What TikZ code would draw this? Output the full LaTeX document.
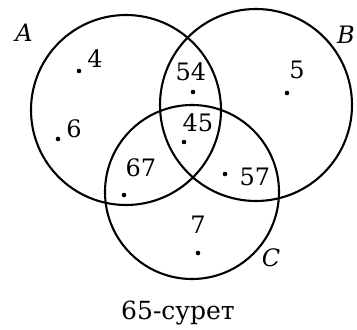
\documentclass[tikz,border=0pt]{standalone}
\usepackage{fontspec}
\setmainfont{DejaVu Serif}
\begin{document}
\begin{tikzpicture}[x=1pt,y=-1pt,
  ring/.style={draw, circle, line width=2.1pt, inner sep=0pt},
  pt/.style={circle, fill, inner sep=0pt, minimum size=4.6pt},
  num/.style={inner sep=0pt, font=\fontsize{24}{28}\selectfont},
  setlab/.style={inner sep=0pt, font=\fontsize{24}{28}\selectfont\itshape}]
\useasboundingbox (0,0) rectangle (357,330);
\node[ring, minimum size=190pt] (A) at (126,110) {};
\node[ring, minimum size=192pt] (B) at (256,105) {};
\node[ring, minimum size=174pt] (C) at (192,192) {};
\node[setlab] (lA) at (24,33) {A};
\node[setlab] (lB) at (346,35) {B};
\node[setlab] (lC) at (271,258) {C};
\node[num] (t4) at (95,59) {4};
\node[pt] (d4) at (79,71) {};
\node[num] (t6) at (74,129) {6};
\node[pt] (d6) at (58,139) {};
\node[num] (t54) at (191,72) {54};
\node[pt] (d54) at (193,92) {};
\node[num] (t5) at (297,70) {5};
\node[pt] (d5) at (287,93) {};
\node[num] (t45) at (198,123) {45};
\node[pt] (d45) at (184,142) {};
\node[num] (t67) at (141,168) {67};
\node[pt] (d67) at (124,195) {};
\node[num] (t57) at (255,177) {57};
\node[pt] (d57) at (225,174) {};
\node[num] (t7) at (198,225) {7};
\node[pt] (d7) at (198,253) {};
\node[num, font=\fontsize{25}{30}\selectfont] (cap) at (178,313) {65-сурет};
\end{tikzpicture}
\end{document}
